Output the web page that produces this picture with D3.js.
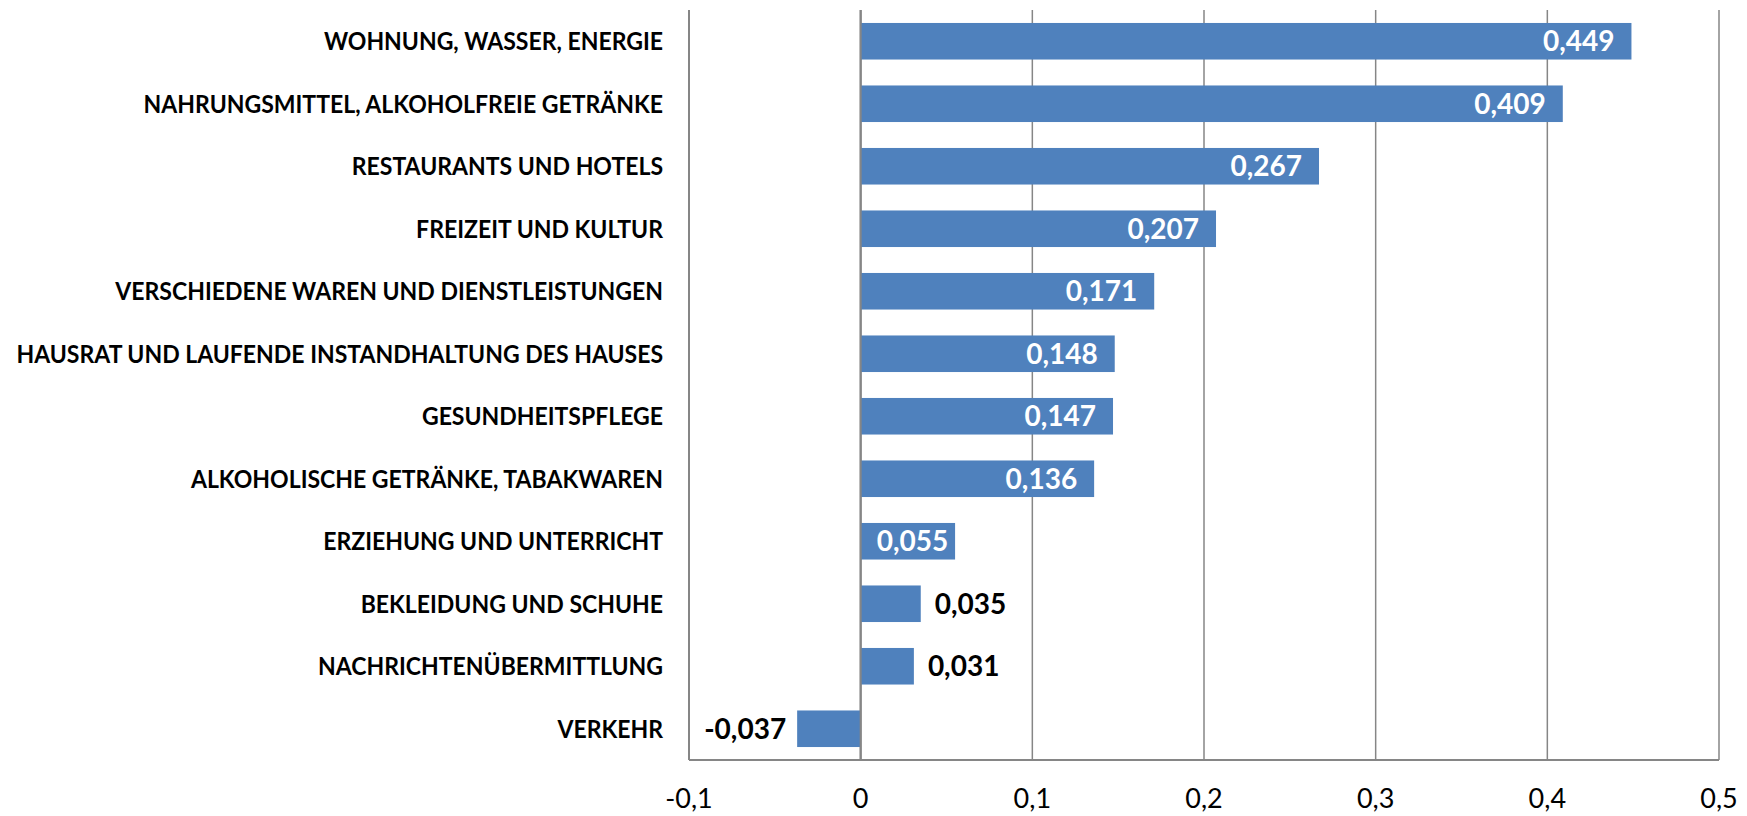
<!DOCTYPE html>
<html>
<head>
<meta charset="utf-8">
<script src="https://cdn.jsdelivr.net/npm/d3@7"></script>
<style>
  body { margin: 0; background: #fff; }
  svg { display: block; }
</style>
</head>
<body>
<div id="chart"></div>
<script>
  var categories = [
    "WOHNUNG, WASSER, ENERGIE",
    "NAHRUNGSMITTEL, ALKOHOLFREIE GETRÄNKE",
    "RESTAURANTS UND HOTELS",
    "FREIZEIT UND KULTUR",
    "VERSCHIEDENE WAREN UND DIENSTLEISTUNGEN",
    "HAUSRAT UND LAUFENDE INSTANDHALTUNG DES HAUSES",
    "GESUNDHEITSPFLEGE",
    "ALKOHOLISCHE GETRÄNKE, TABAKWAREN",
    "ERZIEHUNG UND UNTERRICHT",
    "BEKLEIDUNG UND SCHUHE",
    "NACHRICHTENÜBERMITTLUNG",
    "VERKEHR"
  ];
  var values = [0.449, 0.409, 0.267, 0.207, 0.171, 0.148, 0.147, 0.136, 0.055, 0.035, 0.031, -0.037];
  var tickValues = [-0.1, 0, 0.1, 0.2, 0.3, 0.4, 0.5];

  var outerWidth = 1747,
      outerHeight = 816,
      margin = { top: 10, right: 28, bottom: 56, left: 689 };

  var svg = d3.select("#chart").append("svg")
      .attr("width", outerWidth)
      .attr("height", outerHeight);

  var x = d3.scaleLinear()
      .domain([-0.1, 0.5])
      .range([margin.left, outerWidth - margin.right]);

  var y = d3.scaleBand()
      .domain(categories)
      .range([margin.top, outerHeight - margin.bottom])
      .paddingInner(0.415)
      .paddingOuter(0.2075);

  // german decimal comma, plain hyphen as minus
  var de = d3.formatLocale({ decimal: ",", thousands: ".", grouping: [3], currency: ["", " €"], minus: "-" });
  var fmt = de.format(".3f");
  var fmtTick = d => (d === 0 ? "0" : de.format(".1f")(d));

  var gridColor = "#868686",
      font = "Lato, 'Open Sans', sans-serif";

  // vertical gridlines
  svg.append("g")
    .selectAll("line")
    .data(tickValues)
    .enter().append("line")
      .attr("x1", d => x(d))
      .attr("x2", d => x(d))
      .attr("y1", y.range()[0])
      .attr("y2", y.range()[1])
      .attr("stroke", gridColor)
      .attr("stroke-width", d => (d === -0.1 || d === 0 ? 2 : 1.5));

  // bottom axis line
  svg.append("line")
      .attr("x1", x(-0.1))
      .attr("x2", x(0.5))
      .attr("y1", y.range()[1])
      .attr("y2", y.range()[1])
      .attr("stroke", gridColor)
      .attr("stroke-width", 2);

  // bars
  svg.append("g")
    .selectAll("rect")
    .data(values)
    .enter().append("rect")
      .attr("x", d => x(Math.min(0, d)))
      .attr("y", (d, i) => y(categories[i]))
      .attr("width", d => Math.abs(x(d) - x(0)))
      .attr("height", y.bandwidth())
      .attr("fill", "#4f81bd");

  // zero line over bars
  svg.append("line")
      .attr("x1", x(0))
      .attr("x2", x(0))
      .attr("y1", y.range()[0])
      .attr("y2", y.range()[1])
      .attr("stroke", gridColor)
      .attr("stroke-width", 2);

  // category labels (squeezed horizontally to the narrower original face)
  var catLabels = svg.append("g")
    .selectAll("text")
    .data(categories)
    .enter().append("text")
      .attr("text-anchor", "end")
      .attr("font-family", font)
      .attr("font-weight", "bold")
      .attr("font-size", "25px")
      .attr("fill", "#000")
      .text(d => d);

  var maxW = d3.max(catLabels.nodes(), n => n.getComputedTextLength()),
      sx = Math.min(1, 647 / maxW);

  catLabels.attr("transform", d =>
      "translate(" + (margin.left - 26) + "," + (y(d) + y.bandwidth() / 2 + 9) + ") scale(" + sx + ",1)");

  // value labels
  var labels = svg.append("g")
    .selectAll("text")
    .data(values)
    .enter().append("text")
      .attr("y", (d, i) => y(categories[i]) + y.bandwidth() / 2 + 10)
      .attr("font-family", font)
      .attr("font-weight", "bold")
      .attr("font-size", "28px")
      .text(d => fmt(d));

  labels.each(function(d) {
    var t = d3.select(this),
        w = this.getComputedTextLength(),
        barW = Math.abs(x(d) - x(0));
    if (d >= 0 && barW > w + 20) {
      var right = Math.max(x(d) - 17, x(0) + 16 + w);
      t.attr("x", Math.min(right, x(d) - 4)).attr("text-anchor", "end").attr("fill", "#fff");
    } else if (d >= 0) {
      t.attr("x", x(d) + 14).attr("text-anchor", "start").attr("fill", "#000");
    } else {
      t.attr("x", x(d) - 11).attr("text-anchor", "end").attr("fill", "#000");
    }
  });

  // tick labels
  svg.append("g")
    .selectAll("text")
    .data(tickValues)
    .enter().append("text")
      .attr("x", d => x(d))
      .attr("y", 808)
      .attr("text-anchor", "middle")
      .attr("font-family", font)
      .attr("font-size", "27px")
      .attr("fill", "#000")
      .text(d => fmtTick(d));
</script>
</body>
</html>
